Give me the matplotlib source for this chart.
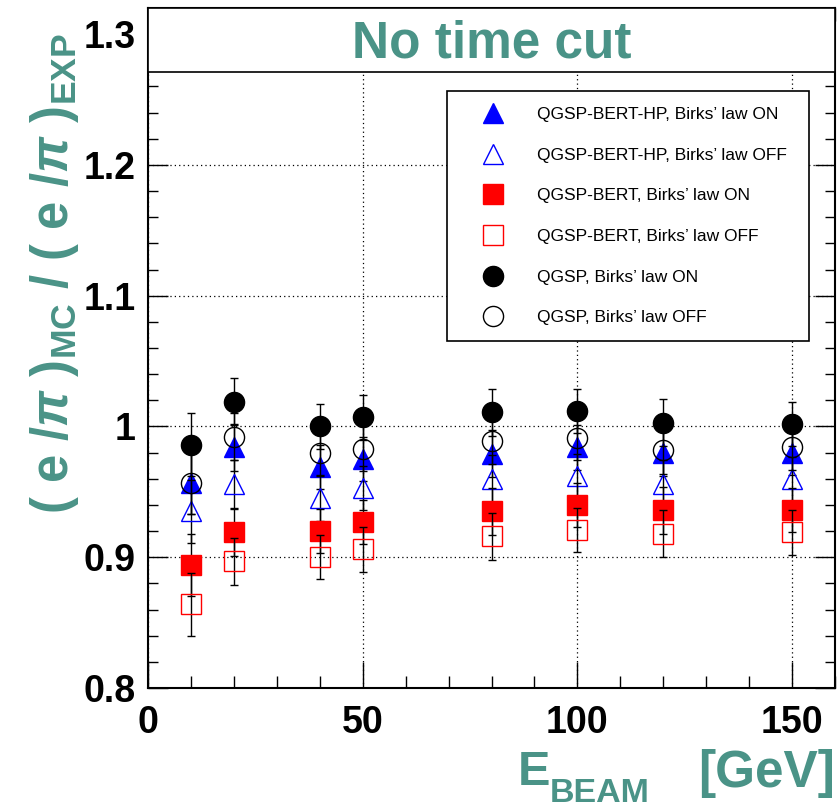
import matplotlib
matplotlib.use('Agg')
import matplotlib.pyplot as plt
from matplotlib.patches import Rectangle

plt.rcParams['font.family'] = ['Liberation Sans', 'DejaVu Sans']
plt.rcParams['mathtext.fontset'] = 'custom'
plt.rcParams['mathtext.rm'] = 'Liberation Sans:bold'
plt.rcParams['mathtext.it'] = 'Liberation Sans:bold:italic'
plt.rcParams['mathtext.bf'] = 'Liberation Sans:bold'

# beam energies [GeV]
energy = [10, 20, 40, 50, 80, 100, 120, 150]

# (e/pi)_MC / (e/pi)_EXP
hp_on = [0.957, 0.984, 0.969, 0.975, 0.979, 0.984, 0.980, 0.980]
hp_off = [0.935, 0.956, 0.945, 0.953, 0.960, 0.962, 0.956, 0.960]
bert_on = [0.894, 0.919, 0.920, 0.927, 0.935, 0.940, 0.936, 0.936]
bert_off = [0.864, 0.897, 0.900, 0.906, 0.916, 0.921, 0.918, 0.919]
qgsp_off = [0.957, 0.992, 0.980, 0.983, 0.989, 0.991, 0.982, 0.984]
qgsp_on = [0.986, 1.019, 1.000, 1.007, 1.011, 1.012, 1.003, 1.002]
err = [0.024, 0.018, 0.017, 0.017, 0.018, 0.017, 0.018, 0.017]

labels = ['QGSP-BERT-HP, Birks\u2019 law ON',
          'QGSP-BERT-HP, Birks\u2019 law OFF',
          'QGSP-BERT, Birks\u2019 law ON',
          'QGSP-BERT, Birks\u2019 law OFF',
          'QGSP, Birks\u2019 law ON',
          'QGSP, Birks\u2019 law OFF']
yticks = [0.8, 0.9, 1.0, 1.1, 1.2, 1.3]
ytick_labels = ['0.8', '0.9', '1', '1.1', '1.2', '1.3']
xticks = [0, 50, 100, 150]

teal = '#4a9387'

fig = plt.figure(figsize=(8.39, 8.10), dpi=100)
ax = fig.add_axes([148 / 839, 122 / 810, 687 / 839, 680 / 810])
ax.set_xlim(0, 160)
ax.set_ylim(0.8, 1.32)

# series: values, marker, colour, filled
series = [
    (hp_on, '^', 'blue', True),
    (hp_off, '^', 'blue', False),
    (bert_on, 's', 'red', True),
    (bert_off, 's', 'red', False),
    (qgsp_on, 'o', 'black', True),
    (qgsp_off, 'o', 'black', False),
]
draw_order = [0, 1, 2, 3, 5, 4]
handles = [None] * len(series)
for k, i in enumerate(draw_order):
    vals, mk, col, filled = series[i]
    z = 3 + k
    ax.errorbar(energy, vals, yerr=err, fmt='none', ecolor='black',
                elinewidth=1.0, capsize=3, capthick=1.0, zorder=z)
    h, = ax.plot(energy, vals, ls='none', marker=mk, ms=14.5,
                 mfc=col if filled else 'none', mec=col,
                 mew=1.0, zorder=z + 0.5)
    handles[i] = h

# axes styling
ax.set_xticks(xticks)
ax.set_xticks(range(0, 161, 10), minor=True)
ax.set_yticks(yticks)
ax.set_yticklabels(ytick_labels)
ax.set_yticks([0.8 + 0.02 * i for i in range(27)], minor=True)
ax.tick_params(which='both', direction='in', top=True, right=True, width=1.0,
               labelsize=27)
ax.tick_params(axis='x', which='major', length=19, pad=12)
ax.tick_params(axis='x', which='minor', length=9)
ax.tick_params(axis='y', which='major', length=14.5, pad=9)
ax.tick_params(axis='y', which='minor', length=7)
for lab in ax.get_xticklabels() + ax.get_yticklabels():
    lab.set_fontweight('bold')
for sp in ax.spines.values():
    sp.set_linewidth(1.5)
ax.grid(True, which='major', color='black', lw=0.9, ls=(0, (1, 2.5)))
ax.set_axisbelow(True)

# title pad on top of the frame
box_bottom = 0.906
ax.add_patch(Rectangle((0, box_bottom), 1, 1 - box_bottom, transform=ax.transAxes,
                       facecolor='white', edgecolor='black', lw=1.2,
                       zorder=20, clip_on=False))
ax.text(0.5, (688 - 57) / 680, 'No time cut', transform=ax.transAxes,
        ha='center', va='baseline', fontsize=37, fontweight='bold', color=teal,
        zorder=21)

leg_h = (336 - 91) / 680
leg = ax.legend(handles, labels, loc='upper left',
                bbox_to_anchor=(0.435, 0.878 - leg_h, (809 - 447) / 687, leg_h),
                mode='expand', fontsize=12.5, numpoints=1, frameon=True,
                fancybox=False, framealpha=1, edgecolor='black', borderpad=0.92,
                labelspacing=1.47, handlelength=3.46, handletextpad=0.79,
                borderaxespad=0)
leg.get_frame().set_linewidth(1.2)
leg.set_zorder(15)

# axis titles
fig.text(518 / 839, (810 - 785) / 810, 'E', ha='left', va='baseline',
         fontsize=35, fontweight='bold', color=teal)
fig.text(550 / 839, (810 - 802) / 810, 'BEAM', ha='left', va='baseline',
         fontsize=24.5, fontweight='bold', color=teal)
fig.text(835 / 839, (810 - 787) / 810, '[GeV]', ha='right', va='baseline',
         fontsize=37, fontweight='bold', color=teal)
fig.text(68 / 839, (810 - 514) / 810,
         r'( e /$\pi$ )$_{\mathrm{MC}}$ / ( e /$\pi$ )$_{\mathrm{EXP}}$',
         rotation=90, rotation_mode='anchor', ha='left', va='baseline',
         fontsize=36.5, fontweight='bold', color=teal)

fig.savefig('out.png', dpi=100)
